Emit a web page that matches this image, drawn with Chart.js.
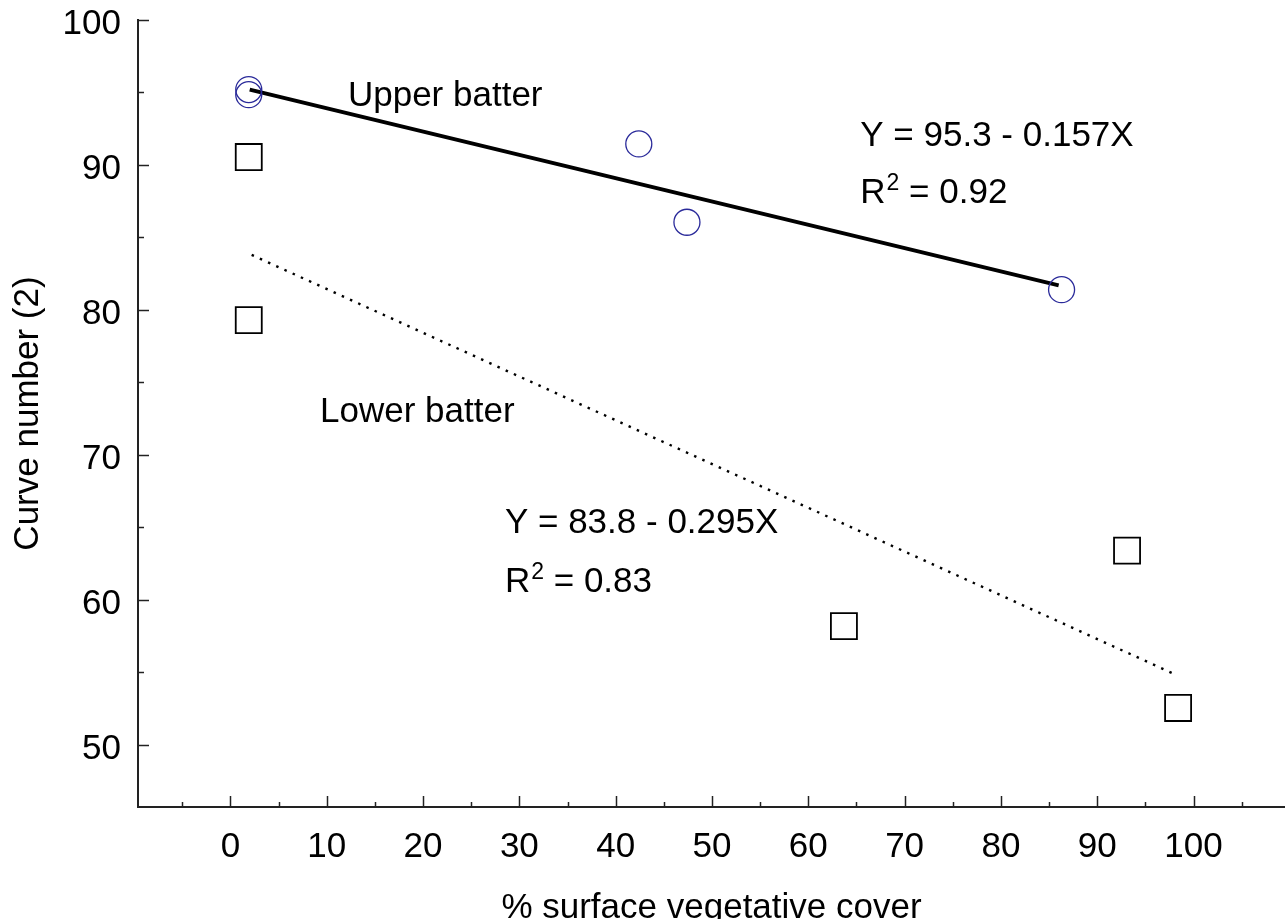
<!DOCTYPE html>
<html>
<head>
<meta charset="utf-8">
<script src="https://cdn.jsdelivr.net/npm/chart.js@4"></script>
<style>
  html, body { margin: 0; padding: 0; background: #fff; }
  #wrap { width: 1285px; height: 919px; }
</style>
</head>
<body>
<div id="wrap"><canvas id="chart-canvas" width="1285" height="919"></canvas></div>
<script>
// data
var upperX = [1.9, 1.9, 42.4, 47.4, 86.3];
var upperY = [95.2, 94.85, 91.45, 86.05, 81.4];
var lowerX = [1.9, 1.9, 63.7, 93.1, 98.4];
var lowerY = [90.55, 79.3, 58.2, 63.4, 52.55];
// fitted lines, end points
var upperFitX = [2.0, 86.0];
var upperFitY = [95.2, 81.7];
var lowerFitX = [2.2, 98.3];
var lowerFitY = [83.8, 54.8];

var xMajor = [0, 10, 20, 30, 40, 50, 60, 70, 80, 90, 100];
var xMinor = [-5, 5, 15, 25, 35, 45, 55, 65, 75, 85, 95, 105];
var yMajor = [50, 60, 70, 80, 90, 100];
var yMinor = [55, 65, 75, 85, 95];

var FONT = '"Liberation Sans", Arial, sans-serif';
var FS = 35;

function pts(xs, ys) {
  var out = [];
  for (var i = 0; i < xs.length; i++) out.push({x: xs[i], y: ys[i]});
  return out;
}

// labels in the plot (anchored in data units)
var notes = [
  {text: "Upper batter", x: 12.2, y: 94.05},
  {text: "Lower batter", x: 9.3, y: 72.3},
  {text: "Y = 95.3 - 0.157X", x: 65.4, y: 91.3},
  {r2: "0.92", x: 65.4, y: 87.35},
  {text: "Y = 83.8 - 0.295X", x: 28.5, y: 64.6},
  {r2: "0.83", x: 28.5, y: 60.57}
];

var innerTicks = {
  id: 'innerTicks',
  afterDraw: function(chart) {
    var c = chart.ctx, xs = chart.scales.x, ys = chart.scales.y, a = chart.chartArea;
    c.save();
    c.strokeStyle = '#222';
    c.lineWidth = 1.5;
    function xt(v, len) {
      var p = Math.round(xs.getPixelForValue(v)) + 0.5;
      c.beginPath(); c.moveTo(p, a.bottom); c.lineTo(p, a.bottom - len); c.stroke();
    }
    function yt(v, len) {
      var p = Math.round(ys.getPixelForValue(v)) + 0.5;
      c.beginPath(); c.moveTo(a.left, p); c.lineTo(a.left + len, p); c.stroke();
    }
    xMajor.forEach(function(v){ xt(v, 11); });
    xMinor.forEach(function(v){ xt(v, 5); });
    yMajor.forEach(function(v){ yt(v, 11); });
    yMinor.forEach(function(v){ yt(v, 6); });

    c.fillStyle = '#000';
    c.textBaseline = 'alphabetic';
    c.textAlign = 'left';
    notes.forEach(function(n) {
      var px = xs.getPixelForValue(n.x), py = ys.getPixelForValue(n.y);
      c.font = FS + 'px ' + FONT;
      if (n.text) {
        c.fillText(n.text, px, py);
      } else {
        c.fillText('R', px, py);
        var w = c.measureText('R').width;
        c.font = '23px ' + FONT;
        c.fillText('2', px + w + 1, py - 13);
        var w2 = c.measureText('2').width;
        c.font = FS + 'px ' + FONT;
        c.fillText(' = ' + n.r2, px + w + 1 + w2, py);
      }
    });
    c.restore();
  }
};

var ctx = document.getElementById("chart-canvas");
new Chart(ctx, {
  type: 'scatter',
  data: {
    datasets: [
      {
        label: 'Upper batter',
        data: pts(upperX, upperY),
        pointStyle: 'circle',
        pointRadius: 13,
        borderColor: '#2a2a9a',
        backgroundColor: 'rgba(0,0,0,0)',
        borderWidth: 1.3
      },
      {
        label: 'Lower batter',
        data: pts(lowerX, lowerY),
        pointStyle: 'rect',
        pointRadius: 18.4,
        borderColor: '#000',
        backgroundColor: 'rgba(0,0,0,0)',
        borderWidth: 1.8
      },
      {
        label: 'Upper fit',
        data: pts(upperFitX, upperFitY),
        showLine: true,
        pointRadius: 0,
        borderColor: '#000',
        borderWidth: 4
      },
      {
        label: 'Lower fit',
        data: pts(lowerFitX, lowerFitY),
        showLine: true,
        pointRadius: 0,
        borderColor: '#000',
        borderWidth: 2.4,
        borderDash: [2.5, 6.5]
      }
    ]
  },
  options: {
    responsive: false,
    animation: false,
    devicePixelRatio: 1,
    layout: { autoPadding: false, padding: { top: 20, left: 0, right: 0, bottom: 0 } },
    plugins: { legend: { display: false }, tooltip: { enabled: false } },
    scales: {
      x: {
        type: 'linear',
        min: -9.6,
        max: 109.5,
        afterBuildTicks: function(s) { s.ticks = xMajor.map(function(v){ return {value: v}; }); },
        afterFit: function(s) { s.height = 112; s.paddingLeft = 0; s.paddingRight = 0; },
        grid: { display: false, drawTicks: false },
        border: { display: true, color: '#222', width: 2 },
        ticks: {
          autoSkip: false, maxRotation: 0, padding: 19, color: '#000',
          font: { family: FONT, size: FS }
        },
        title: {
          display: true, text: '% surface vegetative cover', color: '#000',
          font: { family: FONT, size: FS, lineHeight: 1 },
          padding: { top: 0, bottom: -7 }
        }
      },
      y: {
        type: 'linear',
        min: 45.72,
        max: 100,
        afterBuildTicks: function(s) { s.ticks = yMajor.map(function(v){ return {value: v}; }); },
        afterFit: function(s) { s.width = 138; s.paddingTop = 0; s.paddingBottom = 0; },
        grid: { display: false, drawTicks: false },
        border: { display: true, color: '#222', width: 2 },
        ticks: {
          autoSkip: false, padding: 17, labelOffset: 4, color: '#000',
          font: { family: FONT, size: FS }
        },
        title: {
          display: true, text: 'Curve number (2)', color: '#000',
          font: { family: FONT, size: FS, lineHeight: 1.2 },
          padding: { top: 7, bottom: 0 }
        }
      }
    }
  },
  plugins: [innerTicks]
});
</script>
</body>
</html>
